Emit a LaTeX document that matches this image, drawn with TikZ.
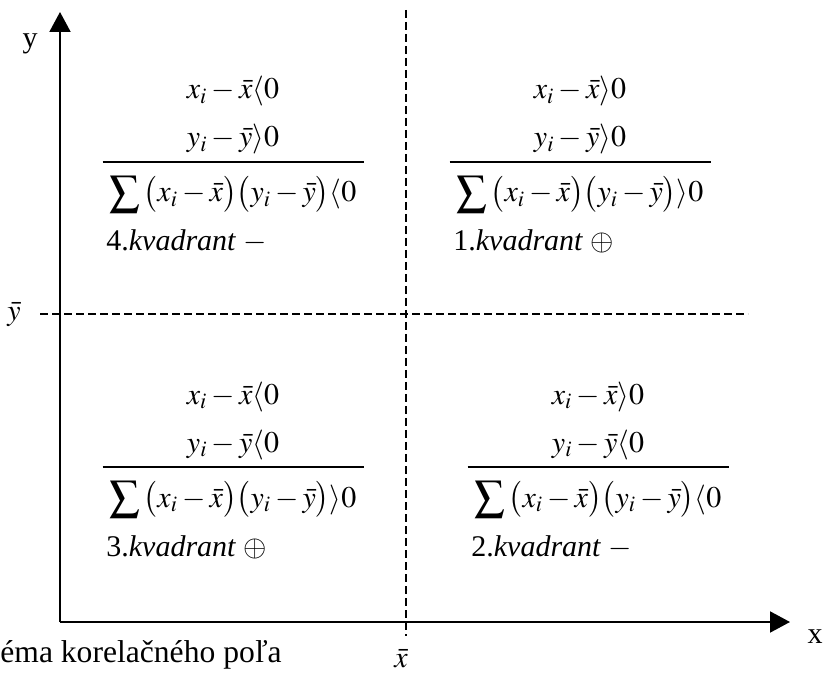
\documentclass[tikz,border=0pt]{standalone}
\usepackage{mathptmx}
\usepackage{fontspec}
\setmainfont{Liberation Serif}
\usetikzlibrary{arrows.meta}

\begin{document}
\begin{tikzpicture}[
  x=0.5pt, y=-0.5pt,
  % Node Styles
  eqline/.style={anchor=base, inner sep=0pt, font=\fontsize{15}{18}\selectfont},
  kvline/.style={anchor=base west, inner sep=0pt, font=\fontsize{15}{18}\selectfont},
  axlabel/.style={anchor=base, inner sep=0pt, font=\fontsize{15}{18}\selectfont},
  % Line Styles
  axisarrow/.style={-{Triangle[length=10pt,width=10.5pt]}, line width=1pt},
  meanline/.style={line width=0.7pt, dash pattern=on 4pt off 2pt},
  fracrule/.style={line width=0.6pt},
]
\useasboundingbox (0,0) rectangle (824,673);

% axes and mean lines
\coordinate (O) at (60,622);
\coordinate (ytip) at (60,12);
\coordinate (xtip) at (790,622);
\coordinate (xbartop) at (406,10);
\coordinate (xbarbot) at (406,636);
\coordinate (ybarleft) at (40,314);
\coordinate (ybarright) at (748,314);

\draw[meanline] (xbartop) -- (xbarbot);
\draw[meanline] (ybarleft) -- (ybarright);
\draw[axisarrow] (O) -- (ytip);
\draw[axisarrow] (O) -- (xtip);

\node[axlabel] (ylab) at (30,48) {y};
\node[axlabel] (xlab) at (815,643) {x};
\node[axlabel] (ybarlab) at (14,321) {$\bar{y}$};
\node[axlabel] (xbarlab) at (401,667) {$\bar{x}$};
\node[kvline, font=\fontsize{15.8}{18}\selectfont] (caption) at (0,662)
  {éma korelačného poľa};

% quadrants
\foreach \q/\cx/\by/\sx/\sy/\ss/\sg in {
    4/233/99/\langle/\rangle/\langle/-,
    1/580/99/\rangle/\rangle/\rangle/\oplus,
    3/233/404/\langle/\langle/\rangle/\oplus,
    2/598/404/\rangle/\langle/\langle/-} {
  \node[eqline] (q\q a) at (\cx,\by) {$x_i-\bar{x}\sx 0$};
  \node[eqline] (q\q b) at (\cx,\by+48) {$y_i-\bar{y}\sy 0$};
  \draw[fracrule] (\cx-130.5,\by+63) -- (\cx+130.5,\by+63);
  \node[eqline] (q\q s) at (\cx,\by+103)
    {$\displaystyle\sum\,\bigl(x_i-\bar{x}\bigr)\bigl(y_i-\bar{y}\bigr)\ss 0$};
  \node[kvline] (q\q k) at (\cx-127,\by+152) {\q.\textit{kvadrant} $\sg$};
}

\end{tikzpicture}
\end{document}
